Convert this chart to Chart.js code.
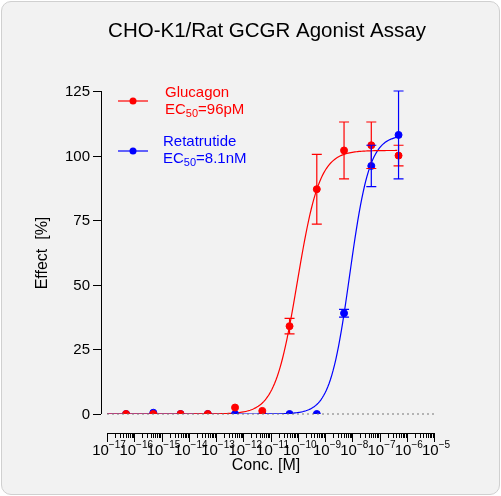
<!DOCTYPE html><html><head><script src="https://cdn.jsdelivr.net/npm/chart.js@4"></script>
<style>html,body{margin:0;background:#fff}#w{position:absolute;left:1px;top:1px;width:497px;height:492px;background:#f2f2f2;border:1px solid #d0d0d0;border-radius:10px}canvas{position:absolute;left:0;top:0}</style></head><body><div id="w"></div><canvas id="c" width="501" height="496"></canvas>
<script>
const conc=[5e-17,5e-16,5e-15,5e-14,5e-13,5e-12,5e-11,5e-10,5e-9,5e-8,5e-7];
const glucagon=[0,0,0,0,2.5,1.2,34,87,102,104,100];
const glucagonErr=[0,0,0,0,0,0,3,13.5,11,9,4];
const retatrutide=[0,0.5,0,0,0,0,0,0,39,96,108];
const retatrutideErr=[0,0,0,0,0,0,0,0,1.5,8,17];
const fitG={top:102,ec50:9.6e-11,h:1.06};
const fitR={top:108,ec50:8.1e-9,h:1.2};
const xTickExps=[-17,-16,-15,-14,-13,-12,-11,-10,-9,-8,-7,-6,-5];
const yTicks=[0,25,50,75,100,125];
function curve(f){const pts=[];for(let e=-17;e<=Math.log10(5e-7)+1e-9;e+=0.05){const x=Math.pow(10,e);pts.push({x,y:f.top/(1+Math.pow(f.ec50/x,f.h))});}return pts;}
const F="Arial, 'Liberation Sans', sans-serif";
const plug={id:'p',afterDraw(ch){const c=ch.ctx,xs=ch.scales.x,ys=ch.scales.y,a=ch.chartArea;c.save();
c.strokeStyle='#000';c.lineWidth=1;c.fillStyle='#000';
const axY=433,axX=101;
c.beginPath();c.moveTo(a.left,axY+.5);c.lineTo(a.right,axY+.5);c.stroke();
for(let e=-17;e<=-5;e++){let px=Math.round(xs.getPixelForValue(Math.pow(10,e)))+.5;c.beginPath();c.moveTo(px,axY);c.lineTo(px,axY+9);c.stroke();
 if(e<-5)for(let m=2;m<=9;m++){px=Math.round(xs.getPixelForValue(m*Math.pow(10,e)))+.5;c.beginPath();c.moveTo(px,axY);c.lineTo(px,axY+5);c.stroke();}}
c.beginPath();c.moveTo(axX+.5,ys.getPixelForValue(125));c.lineTo(axX+.5,ys.getPixelForValue(0));c.stroke();
c.font='15px '+F;c.textAlign='right';c.textBaseline='middle';
yTicks.forEach(v=>{const py=Math.round(ys.getPixelForValue(v))+.5;c.beginPath();c.moveTo(axX-8,py);c.lineTo(axX,py);c.stroke();c.fillText(v,axX-11,py);});
c.textAlign='left';
xTickExps.forEach(e=>{const s=String(e).replace('-','\u2212');c.font='15px '+F;const w1=c.measureText('10').width;c.font='10px '+F;const w2=c.measureText(s).width;
 const x0=xs.getPixelForValue(Math.pow(10,e))-(w1+w2)/2+2;c.font='15px '+F;c.fillText('10',x0,451);c.font='10px '+F;c.fillText(s,x0+w1,445);});
c.textAlign='center';
c.font='16px '+F;c.fillText('Conc. [M]',266,466);
c.save();c.translate(43,253);c.rotate(-Math.PI/2);c.fillText('Effect  [%]',0,0);c.restore();
c.font='20.5px '+F;c.fillText('CHO-K1/Rat GCGR Agonist Assay',267,31);
c.strokeStyle='#777';c.setLineDash([2,3]);c.beginPath();c.moveTo(a.left,ys.getPixelForValue(0));c.lineTo(a.right,ys.getPixelForValue(0));c.stroke();c.setLineDash([]);
[[glucagon,glucagonErr,'red'],[retatrutide,retatrutideErr,'blue']].forEach(([d,er,col])=>{c.strokeStyle=col;c.lineWidth=1.2;d.forEach((v,i)=>{if(!er[i])return;const px=xs.getPixelForValue(conc[i]),y1=ys.getPixelForValue(v-er[i]),y2=ys.getPixelForValue(v+er[i]);c.beginPath();c.moveTo(px,y1);c.lineTo(px,y2);c.moveTo(px-5,y1);c.lineTo(px+5,y1);c.moveTo(px-5,y2);c.lineTo(px+5,y2);c.stroke();});});
[[101,'red','Glucagon','96pM',165,93],[151,'blue','Retatrutide','8.1nM',163,142]].forEach(([ly,col,n,ec,tx,ty])=>{c.strokeStyle=col;c.fillStyle=col;c.lineWidth=1.2;c.beginPath();c.moveTo(118,ly);c.lineTo(148,ly);c.stroke();c.beginPath();c.arc(133,ly,3.5,0,7);c.fill();
 c.textAlign='left';c.textBaseline='middle';c.font='15px '+F;c.fillText(n,tx,ty);c.fillText('EC',tx,ty+17);let w=c.measureText('EC').width;c.font='11px '+F;c.fillText('50',tx+w,ty+21);w+=c.measureText('50').width;c.font='15px '+F;c.fillText('='+ec,tx+w,ty+17);});
c.restore();}};
new Chart(document.getElementById('c'),{type:'scatter',data:{datasets:[
{data:curve(fitG),showLine:true,borderColor:'red',borderWidth:1.2,pointRadius:0,order:2},
{data:curve(fitR),showLine:true,borderColor:'blue',borderWidth:1.2,pointRadius:0,order:2},
{data:conc.map((x,i)=>({x,y:retatrutide[i]})),backgroundColor:'blue',borderColor:'blue',pointRadius:3.5,order:1},
{data:conc.map((x,i)=>({x,y:glucagon[i]})),backgroundColor:'red',borderColor:'red',pointRadius:3.5,order:0}
]},options:{responsive:false,animation:false,layout:{padding:{left:107,right:67,top:91,bottom:82}},plugins:{legend:{display:false},tooltip:{enabled:false}},
scales:{x:{type:'logarithmic',min:1e-17,max:1e-5,display:false},y:{min:0,max:125,display:false}}},plugins:[plug]});
</script></body></html>
